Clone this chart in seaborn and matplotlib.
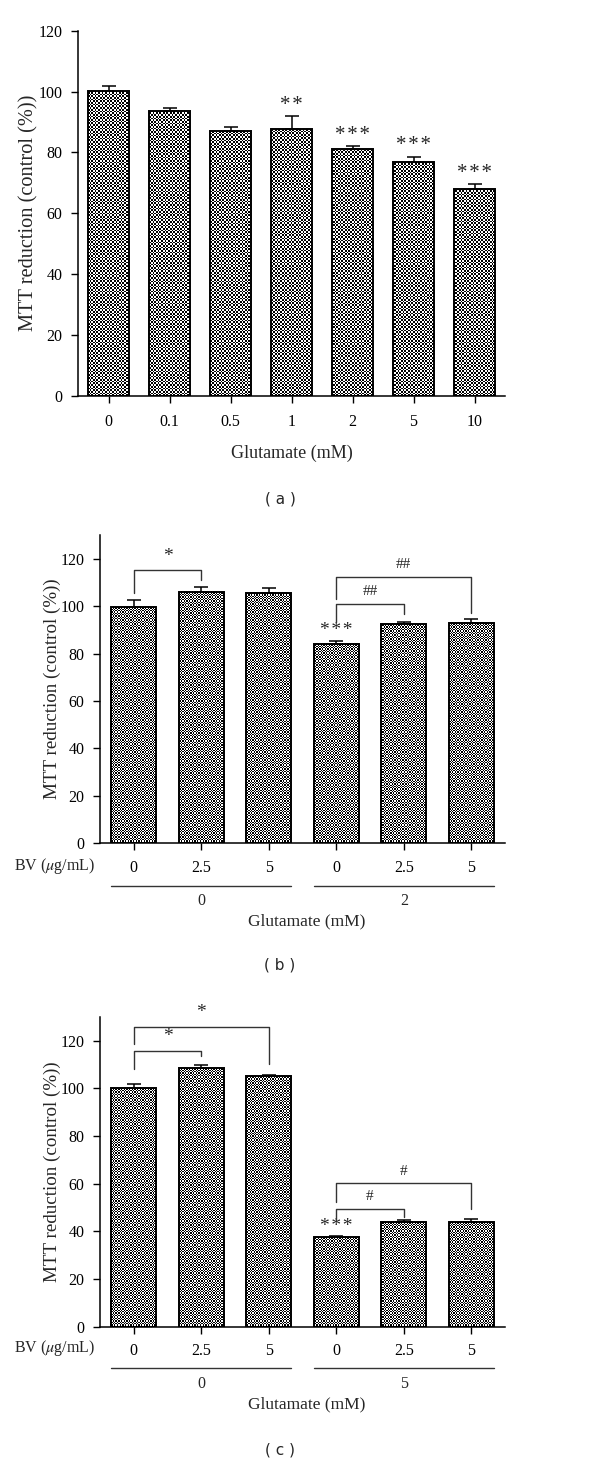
import numpy as np
import pandas as pd
import matplotlib
matplotlib.use('Agg')
import matplotlib.pyplot as plt
import matplotlib.transforms as mtransforms
import seaborn as sns

# panel (a): glutamate dose response
a_labels = ['0', '0.1', '0.5', '1', '2', '5', '10']
a_means = [100.2, 93.7, 87.1, 87.6, 81.1, 76.8, 67.9]
a_err = [1.7, 1.0, 1.2, 4.4, 1.0, 1.8, 1.7]
a_sig = ['', '', '', '**', '***', '***', '***']

# panel (b): BV with 0 / 2 mM glutamate
bv_labels = ['0', '2.5', '5', '0', '2.5', '5']
b_groups = ['0', '2']
b_means = [99.8, 105.9, 105.7, 84.0, 92.3, 93.1]
b_err = [3.0, 2.2, 2.0, 1.5, 1.1, 1.4]
b_sig = ['', '', '', '***', '', '']

# panel (c): BV with 0 / 5 mM glutamate
c_groups = ['0', '5']
c_means = [100.1, 108.8, 105.3, 37.7, 44.1, 44.1]
c_err = [1.8, 1.25, 0.55, 0.3, 0.6, 1.3]
c_sig = ['', '', '', '***', '', '']

# comparison brackets: (bar i, bar j, top, left end, right end, mark)
b_brackets = [(0, 1, 115.1, 105.6, 110.9, '*'),
              (3, 4, 101.0, 93.5, 96.6, '##'),
              (3, 5, 112.3, 103.0, 96.9, '##')]
c_brackets = [(0, 1, 115.9, 108.1, 113.7, '*'),
              (0, 2, 126.0, 118.7, 110.3, '*'),
              (3, 4, 49.6, 44.8, 46.2, '#'),
              (3, 5, 60.2, 52.5, 49.3, '#')]

sns.set_style('ticks')
plt.rcParams['font.family'] = ['Liberation Serif', 'DejaVu Serif']
plt.rcParams['mathtext.fontset'] = 'stix'

fig = plt.figure(figsize=(6, 14.65), dpi=100)
ax_a = fig.add_axes([0.13, 0.7299, 0.7117, 0.2491])
ax_b = fig.add_axes([0.1667, 0.4244, 0.675, 0.2104])
ax_c = fig.add_axes([0.1667, 0.0944, 0.675, 0.2114])


def spaced(s):
    # asterisks in the figure are set with a small gap between them
    return '\u200a'.join(s) if '*' in s else s


def checker_fill(ax, cell):
    # black/white checkerboard texture clipped to each bar
    pos = ax.get_position()
    w = pos.width * fig.get_figwidth() * fig.dpi
    h = pos.height * fig.get_figheight() * fig.dpi
    ny, nx = int(round(h / cell)), int(round(w / cell))
    tex = np.indices((ny, nx)).sum(axis=0) % 2
    x0, x1 = ax.get_xlim()
    y0, y1 = ax.get_ylim()
    for p in list(ax.patches):
        im = ax.imshow(tex, cmap='gray', vmin=0, vmax=1, origin='lower',
                       extent=(x0, x1, y0, y1), aspect='auto',
                       interpolation='nearest', zorder=1.5)
        im.set_clip_path(p)
    ax.set_xlim(x0, x1)
    ax.set_ylim(y0, y1)


def draw_bars(ax, labels, means, errs, sig, ymax, cell, sig_size, xpad):
    df = pd.DataFrame({'cond': [f'{i}_{l}' for i, l in enumerate(labels)],
                       'val': means})
    sns.barplot(data=df, x='cond', y='val', color='white', width=0.66,
                errorbar=None, ax=ax)
    ax.set_xlim(-0.5, len(labels) - 0.5)
    ax.set_ylim(0, ymax)
    for p in ax.patches:
        p.set_facecolor('none')
        p.set_edgecolor('black')
        p.set_linewidth(1.4)
        p.set_zorder(2)
    checker_fill(ax, cell)
    xs = [p.get_x() + p.get_width() / 2 for p in ax.patches]
    ax.errorbar(xs, means, yerr=[np.zeros(len(means)), errs], fmt='none',
                ecolor='black', elinewidth=1.1, capsize=5, capthick=1.1,
                zorder=3)
    for x, m, e, s in zip(xs, means, errs, sig):
        if s:
            ax.annotate(spaced(s), (x, m + e), xytext=(0, 1),
                        textcoords='offset points', ha='center', va='bottom',
                        fontsize=sig_size)
    ax.set_yticks(range(0, 121, 20))
    ax.set_xticks(range(len(labels)))
    ax.set_xticklabels(labels)
    ax.tick_params(axis='both', labelsize=11.5, length=5, width=1,
                   direction='out', pad=6, colors='black')
    ax.tick_params(axis='x', pad=xpad)
    for sp in ['left', 'bottom']:
        ax.spines[sp].set_linewidth(1.1)
        ax.spines[sp].set_color('black')
    sns.despine(ax=ax)
    return xs


def draw_brackets(ax, xs, brackets):
    for i, j, top, yl, yr, mark in brackets:
        ax.plot([xs[i], xs[i], xs[j], xs[j]], [yl, top, top, yr],
                color='#333333', lw=1.0, clip_on=False, zorder=3)
        ax.annotate(mark, ((xs[i] + xs[j]) / 2, top), xytext=(0, 4),
                    textcoords='offset points', ha='center', va='bottom',
                    fontsize=14 if '*' in mark else 11, annotation_clip=False)


def draw_groups(ax, groups, y_bv, y_line, y_grp, y_title, title_x):
    blend = mtransforms.blended_transform_factory(ax.transData, ax.transAxes)
    ax.text(-0.012, y_bv, r'BV ($\mu$g/mL)', transform=ax.transAxes,
            ha='right', va='center', fontsize=11.5)
    pats = ax.patches
    for g, (lo, hi) in zip(groups, [(0, 2), (3, 5)]):
        x0 = pats[lo].get_x()
        x1 = pats[hi].get_x() + pats[hi].get_width()
        ax.plot([x0, x1], [y_line, y_line], color='#333333', lw=1.0,
                transform=blend, clip_on=False)
        ax.text((lo + hi) / 2, y_grp, g, transform=blend, ha='center',
                va='center', fontsize=11.5)
    ax.text(title_x, y_title, 'Glutamate (mM)', transform=ax.transAxes,
            ha='center', va='center', fontsize=12.5)


# (a)
draw_bars(ax_a, a_labels, a_means, a_err, a_sig, 120, 1.7, 15, 8)
ax_a.set_xlabel('Glutamate (mM)', fontsize=13, labelpad=11)
ax_a.set_ylabel('MTT reduction (control (%))', fontsize=14.7, labelpad=0)

# (b)
xs_b = draw_bars(ax_b, bv_labels, b_means, b_err, b_sig, 130, 1.33, 14, 7)
ax_b.set_xlabel('')
ax_b.set_ylabel('MTT reduction (control (%))', fontsize=13.7, labelpad=0)
draw_brackets(ax_b, xs_b, b_brackets)
draw_groups(ax_b, b_groups, -0.0727, -0.1375, -0.186, -0.255, 0.511)

# (c)
xs_c = draw_bars(ax_c, bv_labels, c_means, c_err, c_sig, 130, 1.33, 14, 7)
ax_c.set_xlabel('')
ax_c.set_ylabel('MTT reduction (control (%))', fontsize=13.7, labelpad=0)
draw_brackets(ax_c, xs_c, c_brackets)
draw_groups(ax_c, c_groups, -0.068, -0.133, -0.185, -0.2506, 0.511)

for lab, y in [('( a )', 499), ('( b )', 965), ('( c )', 1450)]:
    fig.text(280 / 600, 1 - y / 1465, lab, ha='center', va='center',
             fontsize=11, family=['DejaVu Sans'])

fig.savefig('out.png', dpi=100, facecolor='white')
